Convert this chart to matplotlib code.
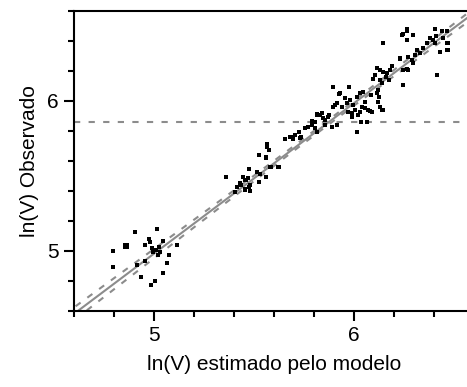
import matplotlib
matplotlib.use("Agg")
import matplotlib.pyplot as plt
from matplotlib.ticker import MultipleLocator
import numpy as np

plt.rcParams['font.family'] = ['Liberation Sans', 'DejaVu Sans']

x_est = [
    4.905, 5.017, 4.797, 4.797, 4.977, 4.983, 4.955, 5.047, 4.990, 4.997,
    5.010, 5.027, 5.033, 5.022, 5.075, 5.117, 5.067, 4.955, 4.917, 5.047,
    4.938, 5.005, 4.985,
    5.363, 5.405, 5.417, 5.430, 5.447, 5.455, 5.472, 5.477, 5.455, 5.480,
    5.517, 5.530, 5.527, 5.563, 5.583, 5.527, 5.560, 5.568, 5.577, 5.623,
    5.655, 5.680, 5.697, 5.725, 5.735, 5.438, 5.463, 5.477, 5.455, 5.480,
    5.567, 5.563, 5.585, 5.627, 5.730,
    5.927, 5.955, 5.905, 5.893, 5.963, 5.980, 5.997, 6.013, 6.030, 5.972,
    5.988, 6.005, 6.022, 5.988, 6.055, 6.080, 6.083, 6.033, 6.067, 6.013,
    5.838, 5.817, 5.877, 5.847, 5.805, 5.788, 5.755, 5.772, 5.805, 5.813,
    5.855, 5.888, 5.705, 5.688, 5.913, 5.938, 5.788, 5.813, 5.830, 5.855,
    5.872, 5.913, 5.897, 5.977, 5.930,
    6.122, 6.127, 6.138, 6.147, 6.243, 6.230, 6.272, 6.267, 6.238, 6.297,
    6.413, 6.463, 6.430, 6.405, 6.438, 6.410, 6.463, 6.313, 6.330, 6.347,
    6.363, 6.305, 6.113, 6.130, 6.147, 6.163, 6.180, 6.188, 6.158, 6.175,
    6.130, 6.105, 6.097, 6.138, 6.247, 6.263, 6.272, 6.405, 6.263, 6.047,
    6.055, 6.038, 6.072, 6.088, 6.113, 6.122, 6.130, 6.147, 6.030, 6.247,
    6.263, 6.463, 6.447, 6.472, 6.472, 6.380, 6.397, 6.288, 6.297, 6.230,
    4.858, 4.868, 4.858, 4.868,
]
y_obs = [
    5.125, 5.147, 5.002, 4.893, 5.080, 5.058, 5.040, 5.069, 5.018, 4.996,
    5.007, 5.025, 4.996, 4.973, 4.973, 5.040, 4.922, 4.935, 4.907, 4.851,
    4.829, 4.802, 4.773,
    5.496, 5.395, 5.429, 5.451, 5.496, 5.473, 5.485, 5.545, 5.407, 5.402,
    5.529, 5.513, 5.458, 5.495, 5.558, 5.640, 5.625, 5.691, 5.673, 5.558,
    5.745, 5.758, 5.747, 5.796, 5.762, 5.440, 5.473, 5.425, 5.411, 5.440,
    5.711, 5.618, 5.562, 5.562, 5.751,
    6.047, 6.018, 5.973, 5.958, 5.984, 6.007, 5.973, 6.029, 6.051, 5.929,
    5.918, 5.940, 5.907, 5.896, 5.951, 5.935, 6.040, 5.862, 5.862, 5.796,
    5.918, 5.913, 5.907, 5.884, 5.862, 5.869, 5.818, 5.824, 5.818, 5.796,
    5.840, 5.829, 5.773, 5.762, 5.984, 5.962, 5.840, 5.907, 5.907, 5.873,
    5.896, 5.840, 6.091, 6.091, 6.051,
    6.073, 6.029, 5.940, 6.389, 6.107, 6.278, 6.207, 6.478, 6.440, 6.440,
    6.173, 6.340, 6.329, 6.478, 6.469, 6.433, 6.389, 6.340, 6.318, 6.351,
    6.384, 6.307, 6.218, 6.207, 6.196, 6.184, 6.207, 6.233, 6.162, 6.140,
    6.140, 6.173, 6.145, 6.118, 6.207, 6.211, 6.296, 6.384, 6.407, 6.062,
    5.996, 5.962, 5.940, 5.929, 6.051, 5.996, 5.962, 5.940, 5.929, 6.444,
    6.467, 6.469, 6.418, 6.389, 6.340, 6.418, 6.407, 6.273, 6.251, 6.284,
    5.028, 5.028, 5.038, 5.038,
]
fit_slope = 1.004
fit_icpt = -0.0385
h_ref = 5.86

x = np.array(x_est)
y = np.array(y_obs)

# 95% confidence band around the line
n = len(x)
res = y - (fit_icpt + fit_slope * x)
s = np.sqrt(np.sum(res ** 2) / (n - 2))
sxx = np.sum((x - x.mean()) ** 2)
xx = np.linspace(4.55, 6.7, 200)
yy = fit_icpt + fit_slope * xx
half = 1.97 * s * np.sqrt(1 / n + (xx - x.mean()) ** 2 / sxx)

fig = plt.figure(figsize=(4.67, 3.87), dpi=100)
ax = fig.add_axes([0.158, 0.1964, 0.857, 0.7752])

gray = '#8c8c8c'
ax.plot(xx, yy, color=gray, lw=1.5, zorder=2)
ax.plot(xx, yy + half, color=gray, lw=1.5, ls=(0, (3, 4)), zorder=2)
ax.plot(xx, yy - half, color=gray, lw=1.5, ls=(0, (3, 4)), zorder=2)
ax.axhline(h_ref, color=gray, lw=1.5, ls=(0, (3, 4)), zorder=2)
ax.scatter(x, y, marker='s', s=11, color='black', linewidths=0, zorder=3)

ax.set_xlim(4.6, 6.6)
ax.set_ylim(4.6, 6.6)
ax.xaxis.set_major_locator(MultipleLocator(1))
ax.xaxis.set_minor_locator(MultipleLocator(0.2))
ax.yaxis.set_major_locator(MultipleLocator(1))
ax.yaxis.set_minor_locator(MultipleLocator(0.2))
ax.tick_params(which='major', direction='out', length=7, width=1.5, labelsize=15, pad=4)
ax.tick_params(which='minor', direction='out', length=4, width=1.5)
ax.spines['right'].set_visible(False)
for sp in ['left', 'bottom', 'top']:
    ax.spines[sp].set_linewidth(1.5)

ax.set_xlabel('ln(V) estimado pelo modelo', fontsize=15, labelpad=7)
ax.set_ylabel('ln(V) Observado', fontsize=15, labelpad=6)

fig.savefig('out.png', dpi=100)
